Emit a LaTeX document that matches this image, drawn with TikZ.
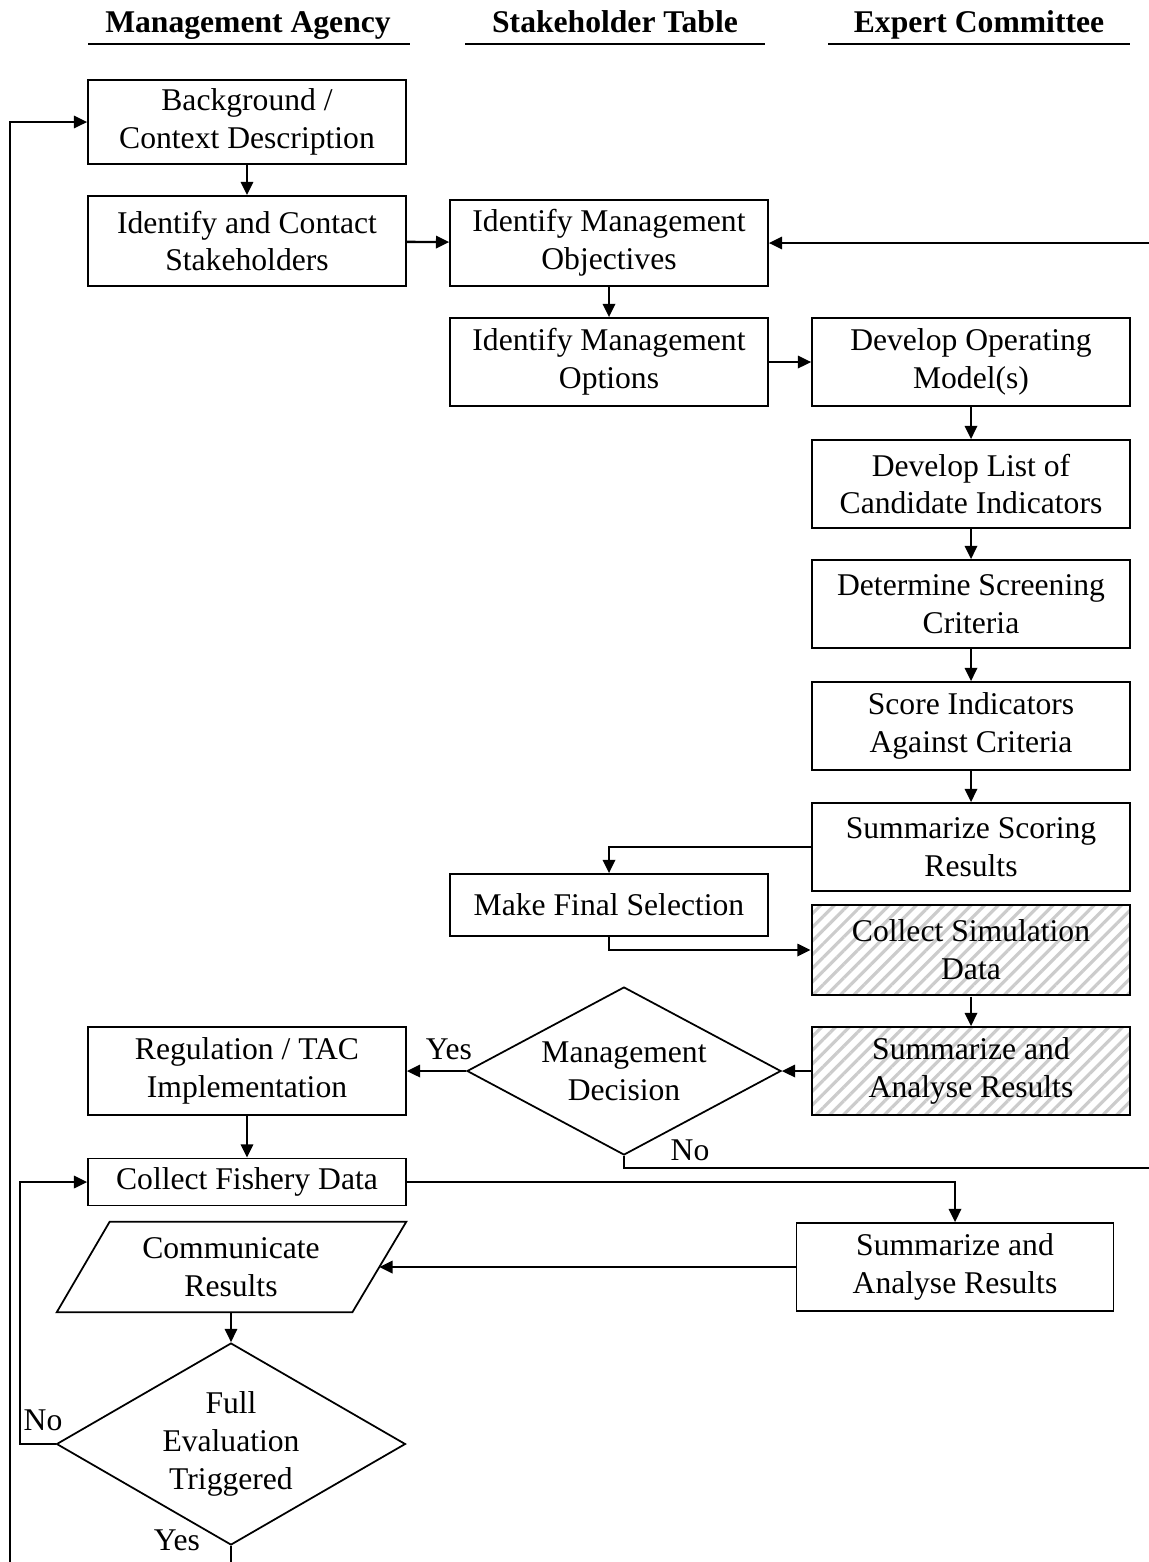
\documentclass[tikz,border=0pt]{standalone}
\usepackage{fontspec}
\setmainfont{Liberation Serif}
\usetikzlibrary{shapes.geometric,arrows.meta,patterns.meta,calc}

\begin{document}
\begin{tikzpicture}[x=0.02cm,y=-0.02cm,
  every node/.style={font=\fontsize{18}{21.5}\selectfont},
  box/.style={draw,line width=1pt,align=center,inner sep=0pt,
    minimum width=6.36cm,minimum height=1.76cm},
  hatchbox/.style={box,preaction={fill=white},
    pattern={Lines[angle=45,distance=5.5pt,line width=1.8pt]},pattern color=black!20},
  decision/.style={draw,line width=1pt,diamond,align=center,inner sep=0pt},
  arr/.style={line width=1.35pt,-{Triangle[length=7.5pt,width=7pt]}},
  lane/.style={font=\fontsize{18}{21.5}\selectfont\bfseries,anchor=base},
  laneline/.style={line width=1.3pt},
  lbl/.style={inner sep=0pt}]

\useasboundingbox (0,0) rectangle (1149,1562);

% column headings
\node[lane] (hma) at (248,32) {Management Agency};
\node[lane] (hst) at (615,32) {Stakeholder Table};
\node[lane] (hec) at (979,32) {Expert Committee};
\draw[laneline] (88,44) -- (410,44);
\draw[laneline] (465,44) -- (765,44);
\draw[laneline] (828,44) -- (1130,44);

% process steps
\node[box,minimum height=1.68cm] (bg) at (247,122) {Background /\\Context Description};
\node[box,minimum height=1.8cm] (contact) at (247,241) {Identify and Contact\\Stakeholders};
\node[box,minimum height=1.72cm] (obj) at (609,243) {Identify Management\\Objectives};
\node[box] (opts) at (609,362) {Identify Management\\Options};
\node[box] (opm) at (971,362) {Develop Operating\\Model(s)};
\node[box] (cand) at (971,484) {Develop List of\\Candidate Indicators};
\node[box] (screen) at (971,604) {Determine Screening\\Criteria};
\node[box] (score) at (971,726) {Score Indicators\\Against Criteria};
\node[box] (sumsc) at (971,847) {Summarize Scoring\\Results};
\node[box,minimum height=1.24cm] (final) at (609,905) {Make Final Selection};
\node[hatchbox,minimum height=1.8cm] (csim) at (971,950) {Collect Simulation\\Data};
\node[hatchbox] (sa1) at (971,1071) {Summarize and\\Analyse Results};
\node[decision,aspect=1.87,minimum width=6.28cm,minimum height=3.36cm] (md) at (624,1071) {Management\\Decision};
\node[box] (reg) at (247,1071) {Regulation / TAC\\Implementation};
\node[box,minimum height=0.94cm] (fish) at (247,1182) {Collect Fishery Data};
\node[box,minimum width=6.34cm] (sa2) at (955,1267) {Summarize and\\Analyse Results};

% communication step (parallelogram)
\node[align=center,inner sep=0pt,minimum width=5.92cm,minimum height=1.8cm] (comm) at (231,1267) {Communicate\\Results};
\draw[line width=1pt] ($(comm.north west)+(27,0)$) -- ($(comm.north east)+(27,0)$)
  -- ($(comm.south east)+(-27,0)$) -- ($(comm.south west)+(-26,0)$) -- cycle;

\node[decision,aspect=1.73,minimum width=6.98cm,minimum height=4.04cm] (fet) at (231,1444) {Full\\Evaluation\\Triggered};

% loop turning points (the outer two run past the page edge)
\coordinate (noturn) at (1165,1168);
\coordinate (yesturn) at (10,1585);
\coordinate (noloop) at (20,0);

% connectors
\draw[arr] (bg) -- (contact);
\draw[arr] (contact) -- (obj);
\draw[arr] (obj) -- (opts);
\draw[arr] (opts) -- (opm);
\draw[arr] (opm) -- (cand);
\draw[arr] (cand) -- (screen);
\draw[arr] (screen) -- (score);
\draw[arr] (score) -- (sumsc);
\draw[arr] (sumsc.west) -| (final.north);
\draw[arr] (final.south) |- (csim.west);
\draw[arr] (csim) -- (sa1);
\draw[arr] (sa1.west) -- (md.east);
\draw[arr] (md.west) -- (reg.east);
\draw[arr] (reg) -- (fish);
\draw[arr] (md.south) |- (noturn) |- (obj.east);
\draw[arr] (fish.east) -| (sa2.north);
\draw[arr] (sa2.west) -- (comm.east);
\draw[arr] (comm.south) -- (fet.north);
\draw[arr] (fet.west) -- (fet.west -| noloop) |- (fish.west);
\draw[arr] (fet.south) |- (yesturn) |- (bg.west);

% branch labels
\node[lbl] (yes1) at (449,1049) {Yes};
\node[lbl] (no1) at (690,1150) {No};
\node[lbl] (no2) at (43,1420) {No};
\node[lbl] (yes2) at (177,1540) {Yes};

\end{tikzpicture}
\end{document}
